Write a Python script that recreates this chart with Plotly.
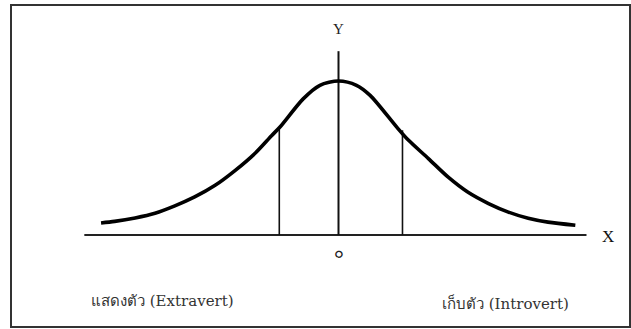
import plotly.graph_objects as go

# Curve (x in sigma units, y as density height)
curve_x = [-3.83, -3.61, -3.28, -2.96, -2.64, -2.32, -1.99, -1.67, -1.35, -1.08,
           -0.94, -0.57, -0.30, 0.0, 0.29, 0.51, 0.94, 1.13, 1.45, 1.77,
           2.09, 2.42, 2.74, 3.06, 3.38, 3.82]
curve_y = [0.031, 0.035, 0.044, 0.056, 0.075, 0.098, 0.128, 0.166, 0.210, 0.256,
           0.279, 0.351, 0.386, 0.397, 0.386, 0.360, 0.278, 0.244, 0.197, 0.149,
           0.110, 0.081, 0.059, 0.043, 0.033, 0.025]

# Vertical lines (x position, height at the curve)
marker_x = [-0.955, 1.032]
marker_top = [0.274, 0.270]

# Axes extents
x_axis_span = [-4.1, 4.0]
y_axis_span = [0.0, 0.474]

# Labels
axis_labels = ["X", "Y"]
origin_label = "๐"
side_labels = ["แสดงตัว (Extravert)", "เก็บตัว (Introvert)"]

fig = go.Figure()

# x axis line
fig.add_trace(go.Scatter(x=x_axis_span, y=[0, 0], mode="lines",
                         line=dict(color="#222", width=2), hoverinfo="skip"))
# y axis line
fig.add_trace(go.Scatter(x=[0, 0], y=y_axis_span, mode="lines",
                         line=dict(color="#111", width=2), hoverinfo="skip"))
# vertical lines
for mx, mt in zip(marker_x, marker_top):
    fig.add_trace(go.Scatter(x=[mx, mx], y=[0, mt], mode="lines",
                             line=dict(color="#111", width=1.6), hoverinfo="skip"))
# curve
fig.add_trace(go.Scatter(x=curve_x, y=curve_y, mode="lines",
                         line=dict(color="#000", width=3.6, shape="spline", smoothing=0.8),
                         hoverinfo="skip"))

font_serif = "Liberation Serif, Times New Roman, serif"
font_label = "DejaVu Serif, Liberation Serif, serif"
annotations = [
    dict(x=4.35, y=-0.005, text=axis_labels[0], font=dict(size=17, color="#111", family=font_serif)),
    dict(x=0.0, y=0.532, text=axis_labels[1], font=dict(size=15, color="#222", family=font_serif)),
    dict(x=0.0, y=-0.044, text=origin_label, font=dict(size=16, color="#222", family=font_serif)),
    dict(x=-2.84, y=-0.170, text=side_labels[0], font=dict(size=15, color="#333", family=font_label)),
    dict(x=2.69, y=-0.177, text=side_labels[1], font=dict(size=15, color="#333", family=font_label)),
]
for a in annotations:
    a.update(xref="x", yref="y", showarrow=False, xanchor="center", yanchor="middle")

fig.update_layout(
    width=631, height=329, autosize=False,
    margin=dict(l=0, r=0, t=0, b=0),
    paper_bgcolor="white", plot_bgcolor="white",
    showlegend=False,
    annotations=annotations,
    shapes=[dict(type="rect", xref="paper", yref="paper",
                 x0=11/631, x1=630/631, y0=2/329, y1=1-5/329,
                 line=dict(color="#333", width=2), fillcolor="rgba(0,0,0,0)", layer="below")],
    xaxis=dict(range=[-5.46, 4.718], visible=False, fixedrange=True),
    yaxis=dict(range=[-0.2426, 0.606], visible=False, fixedrange=True),
)

fig.write_html("out.html", config={"displayModeBar": False})

# remove the default page margin so the figure sits at the window's corner
with open("out.html", encoding="utf-8") as f:
    html = f.read()
html = html.replace("<body>", '<body style="margin:0;padding:0;overflow:hidden">', 1)
with open("out.html", "w", encoding="utf-8") as f:
    f.write(html)
